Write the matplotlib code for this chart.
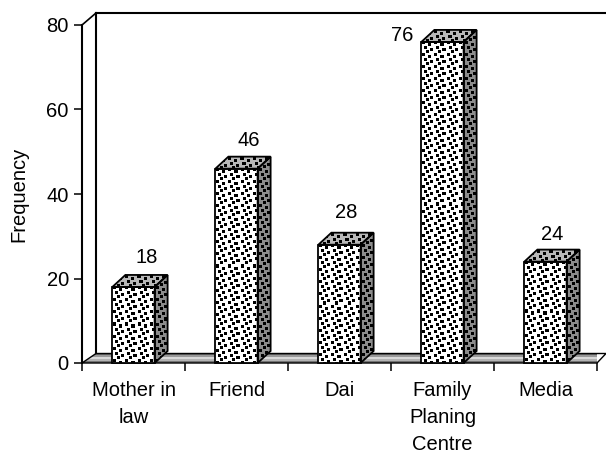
import numpy as np
import matplotlib
matplotlib.use("Agg")
import matplotlib.pyplot as plt
from matplotlib.patches import Polygon

plt.rcParams["font.family"] = ["Liberation Sans", "DejaVu Sans"]

categories = ["Mother in\nlaw", "Friend", "Dai", "Family\nPlaning\nCentre", "Media"]
values = [18, 46, 28, 76, 24]
yticks = [0, 20, 40, 60, 80]
# pixel nudges for the value labels
label_dx = [13, 12, 7, -40, 7]
label_dy = [29, 28, 32, 6, 27]

W, H = 606, 455
fig = plt.figure(figsize=(W / 100, H / 100), dpi=100, facecolor="white")
L, R, T, B = 82, 597, 25, 363
ax = fig.add_axes([L / W, 1 - B / H, (R - L) / W, (B - T) / H])
ax.patch.set_visible(False)
for s in ax.spines.values():
    s.set_visible(False)

# depth of the fake 3d, in pixels then data units
px_x = 5.0 / (R - L)
px_y = 80.0 / (B - T)
wall_dx, wall_dy = 14 * px_x, 9.5 * px_y
bar_dx, bar_dy = 13 * px_x, 12 * px_y
width = 0.41

# stipple tile, 1 = dot
tile = np.zeros((12, 12))
for r, c in [(0, 1), (2, 7), (5, 3), (7, 9), (9, 5)]:
    for dr in range(3):
        for dc in range(3):
            tile[(r + dr) % 12, (c + dc) % 12] = 1


def stipple(pts, shade, z):
    # polygon filled with a dot texture, one texel per pixel
    xs, ys = zip(*pts)
    nx = int(round((max(xs) - min(xs)) / px_x))
    ny = int(round((max(ys) - min(ys)) / px_y))
    tex = np.tile(tile, (ny // 12 + 1, nx // 12 + 1))[:ny, :nx]
    g = shade * (1 - tex)
    p = Polygon(pts, closed=True, facecolor="none", edgecolor="black", lw=1.3,
                clip_on=False, zorder=z + 0.1)
    ax.add_patch(p)
    im = ax.imshow(g, cmap="gray", vmin=0, vmax=1, aspect="auto", zorder=z,
                   extent=(min(xs), max(xs), min(ys), max(ys)),
                   interpolation="nearest")
    im.set_clip_path(p)


# walls
x0, x1 = -0.5, 4.5
top = 80 + 12 * px_y
ax.plot([x0, x0], [0, 80], color="black", lw=1.5, clip_on=False, zorder=3)
ax.plot([x0, x0 + wall_dx], [80, top], color="black", lw=1.2, clip_on=False, zorder=3)
ax.plot([x0 + wall_dx, x0 + wall_dx], [wall_dy, top], color="black", lw=1.5, clip_on=False, zorder=1)
ax.plot([x0 + wall_dx, x1 + 9 * px_x], [top, top], color="black", lw=1.5, clip_on=False, zorder=1)

# floor with a grey gradient
floor = Polygon([(x0, 0), (x0 + wall_dx, wall_dy), (x1 + 9 * px_x, wall_dy), (x1, 0)],
                closed=True, facecolor="none", edgecolor="black", lw=1.0, clip_on=False, zorder=2)
ax.add_patch(floor)
grad = np.array([[0.4], [0.6], [0.85], [0.7], [0.45]])
im = ax.imshow(grad, cmap="gray", vmin=0, vmax=1, aspect="auto", zorder=1.5,
               extent=(x0, x1 + 9 * px_x, 0, wall_dy))
im.set_clip_path(floor)

# bars
for i, v in enumerate(values):
    a, b = i - width / 2, i + width / 2
    stipple([(a, 0), (b, 0), (b, v), (a, v)], 1.0, 4)
    stipple([(b, 0), (b + bar_dx, bar_dy), (b + bar_dx, v + bar_dy), (b, v)], 0.55, 4)
    stipple([(a, v), (a + bar_dx, v + bar_dy), (b + bar_dx, v + bar_dy), (b, v)], 0.72, 4)
    ax.annotate(str(v), (i, v), xytext=(label_dx[i] * 0.72, label_dy[i] * 0.72),
                textcoords="offset points", ha="center", va="center",
                fontsize=14.5, color="black")

ax.set_xlim(-0.5, 4.5)
ax.set_ylim(0, 80)
ax.set_yticks(yticks)
ax.set_xticks(np.arange(-0.5, 5, 1))
ax.set_xticklabels([])
ax.set_xticks(range(5), categories, minor=True, linespacing=1.52)
ax.tick_params(axis="x", which="minor", length=0, pad=13, labelsize=14.5)
ax.tick_params(axis="x", which="major", length=6, width=1.1)
ax.tick_params(axis="y", length=6, width=1.1, labelsize=14.5, pad=3.5)
ax.set_ylabel("Frequency", fontsize=14.5, labelpad=13)

fig.savefig("out.png", dpi=100, facecolor="white")
